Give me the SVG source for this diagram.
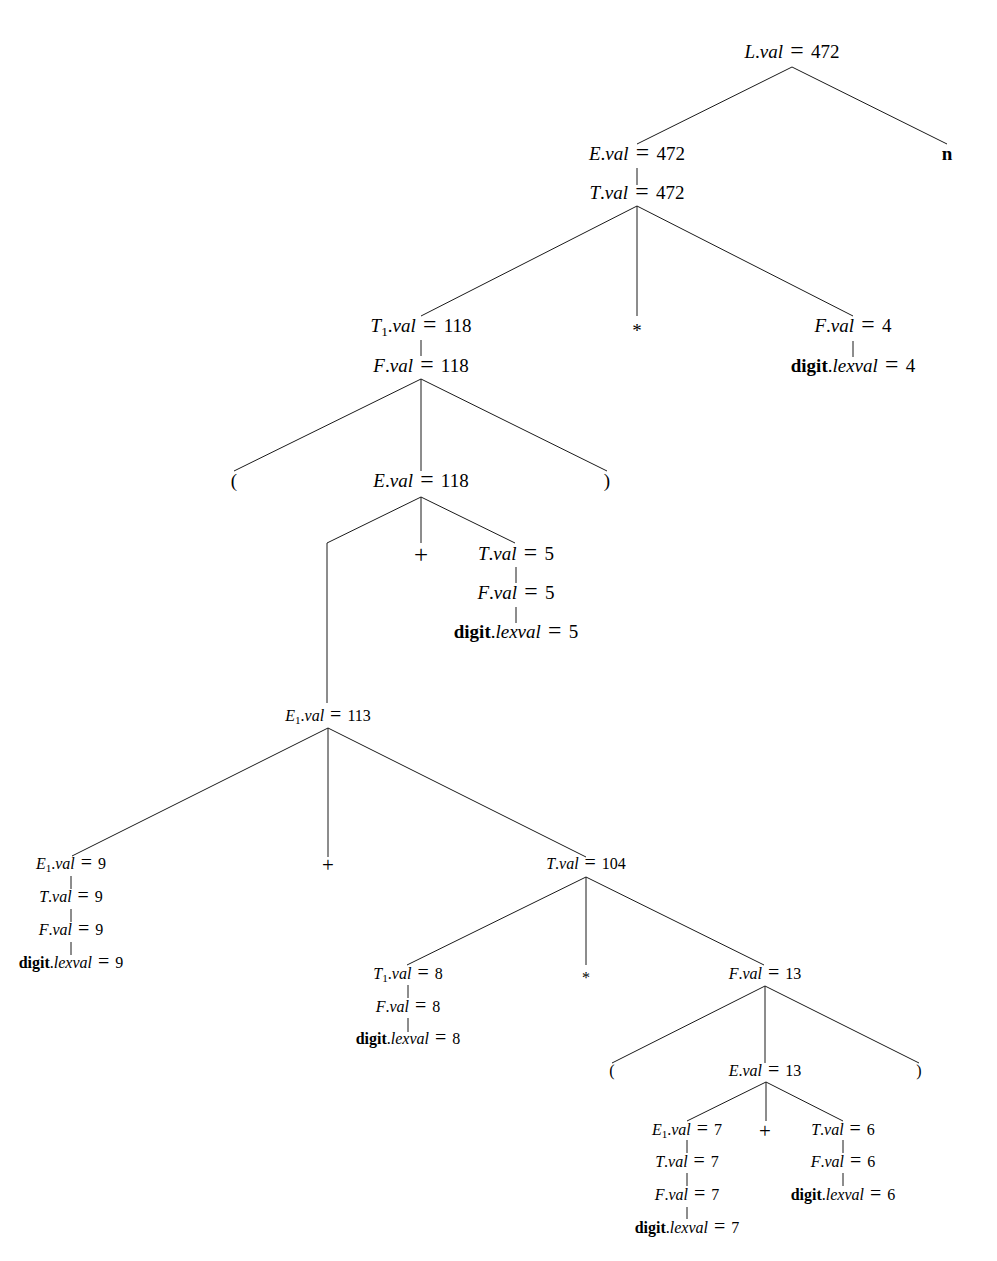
<svg xmlns="http://www.w3.org/2000/svg" width="997" height="1261" viewBox="0 0 997 1261">
<style>
  text { font-family: "Liberation Serif", "Times New Roman", serif; fill: #000; text-anchor: middle; }
  .lg { font-size: 19px; word-spacing: 2.5px; }
  .sm { font-size: 16px; word-spacing: 2px; }
  .i { font-style: italic; }
  .b { font-weight: bold; }
  .sub { font-size: 70%; }
  .eq { font-size: 125%; }
  .op-lg { font-size: 25px; }
  .op-sm { font-size: 21px; }
  #connectors line, #connectors path { stroke: #1a1a1a; stroke-width: 1; fill: none; }
</style>
<rect width="997" height="1261" fill="#fff"/>

<g id="connectors">
  <!-- L -> E, n -->
  <path d="M792 67 L637 144 M792 67 L947 144"/>
  <line x1="637" y1="168" x2="637" y2="185"/>
  <!-- T.val = 472 -->
  <path d="M637 206 L421 316 M637 206 V316 M637 206 L853 316"/>
  <line x1="421" y1="340" x2="421" y2="356"/>
  <line x1="853" y1="341" x2="853" y2="357"/>
  <!-- F.val = 118 -->
  <path d="M421 379 L234 471 M421 379 V471 M421 379 L607 471"/>
  <!-- E.val = 118 -->
  <path d="M421 497 L327 543 V703 M421 497 V543 M421 497 L515 543"/>
  <line x1="516" y1="567" x2="516" y2="583"/>
  <line x1="516" y1="607" x2="516" y2="623"/>
  <!-- E1.val = 113 -->
  <path d="M328 728 L72 856 M328 728 V857 M328 728 L586 857"/>
  <line x1="71" y1="876" x2="71" y2="889"/>
  <line x1="71" y1="909" x2="71" y2="922"/>
  <line x1="71" y1="942" x2="71" y2="955"/>
  <!-- T.val = 104 -->
  <path d="M586 877 L407 965 M586 877 V965 M586 877 L764 965"/>
  <line x1="408" y1="985" x2="408" y2="998"/>
  <line x1="408" y1="1018" x2="408" y2="1032"/>
  <!-- F.val = 13 -->
  <path d="M765 986 L612 1063 M765 986 V1063 M765 986 L919 1063"/>
  <!-- E.val = 13 -->
  <path d="M766 1082 L687 1121 M766 1082 V1121 M766 1082 L843 1121"/>
  <line x1="687" y1="1140" x2="687" y2="1153"/>
  <line x1="687" y1="1173" x2="687" y2="1186"/>
  <line x1="687" y1="1207" x2="687" y2="1219"/>
  <line x1="843" y1="1140" x2="843" y2="1153"/>
  <line x1="843" y1="1173" x2="843" y2="1186"/>
</g>

<!-- upper part of the tree -->
<g id="L-472"><text class="lg" x="792" y="58"><tspan class="i">L</tspan>.<tspan class="i">val</tspan> <tspan class="eq">=</tspan> 472</text></g>
<g id="E-472"><text class="lg" x="637" y="160"><tspan class="i">E</tspan>.<tspan class="i">val</tspan> <tspan class="eq">=</tspan> 472</text></g>
<g id="n"><text class="lg b" x="947" y="160">n</text></g>
<g id="T-472"><text class="lg" x="637" y="199"><tspan class="i">T</tspan>.<tspan class="i">val</tspan> <tspan class="eq">=</tspan> 472</text></g>
<g id="T1-118"><text class="lg" x="421" y="332"><tspan class="i">T</tspan><tspan class="sub" dy="3.5">1</tspan><tspan dy="-3.5">.</tspan><tspan class="i">val</tspan> <tspan class="eq">=</tspan> 118</text></g>
<g id="star-1"><text class="lg" x="637" y="337">*</text></g>
<g id="F-4"><text class="lg" x="853" y="332"><tspan class="i">F</tspan>.<tspan class="i">val</tspan> <tspan class="eq">=</tspan> 4</text></g>
<g id="F-118"><text class="lg" x="421" y="372"><tspan class="i">F</tspan>.<tspan class="i">val</tspan> <tspan class="eq">=</tspan> 118</text></g>
<g id="digit-4"><text class="lg" x="853" y="372"><tspan class="b">digit</tspan>.<tspan class="i">lexval</tspan> <tspan class="eq">=</tspan> 4</text></g>
<g id="lparen-1"><text class="lg" x="234" y="487">(</text></g>
<g id="E-118"><text class="lg" x="421" y="487"><tspan class="i">E</tspan>.<tspan class="i">val</tspan> <tspan class="eq">=</tspan> 118</text></g>
<g id="rparen-1"><text class="lg" x="607" y="487">)</text></g>
<g id="plus-1"><text class="op-lg" x="421" y="563">+</text></g>
<g id="T-5"><text class="lg" x="516" y="560"><tspan class="i">T</tspan>.<tspan class="i">val</tspan> <tspan class="eq">=</tspan> 5</text></g>
<g id="F-5"><text class="lg" x="516" y="599"><tspan class="i">F</tspan>.<tspan class="i">val</tspan> <tspan class="eq">=</tspan> 5</text></g>
<g id="digit-5"><text class="lg" x="516" y="638"><tspan class="b">digit</tspan>.<tspan class="i">lexval</tspan> <tspan class="eq">=</tspan> 5</text></g>

<!-- lower part of the tree -->
<g id="E1-113"><text class="sm" x="328" y="721"><tspan class="i">E</tspan><tspan class="sub" dy="3">1</tspan><tspan dy="-3">.</tspan><tspan class="i">val</tspan> <tspan class="eq">=</tspan> 113</text></g>
<g id="E1-9"><text class="sm" x="71" y="869"><tspan class="i">E</tspan><tspan class="sub" dy="3">1</tspan><tspan dy="-3">.</tspan><tspan class="i">val</tspan> <tspan class="eq">=</tspan> 9</text></g>
<g id="T-9"><text class="sm" x="71" y="902"><tspan class="i">T</tspan>.<tspan class="i">val</tspan> <tspan class="eq">=</tspan> 9</text></g>
<g id="F-9"><text class="sm" x="71" y="935"><tspan class="i">F</tspan>.<tspan class="i">val</tspan> <tspan class="eq">=</tspan> 9</text></g>
<g id="digit-9"><text class="sm" x="71" y="968"><tspan class="b">digit</tspan>.<tspan class="i">lexval</tspan> <tspan class="eq">=</tspan> 9</text></g>
<g id="plus-2"><text class="op-sm" x="328" y="871.5">+</text></g>
<g id="T-104"><text class="sm" x="586" y="869"><tspan class="i">T</tspan>.<tspan class="i">val</tspan> <tspan class="eq">=</tspan> 104</text></g>
<g id="T1-8"><text class="sm" x="408" y="979"><tspan class="i">T</tspan><tspan class="sub" dy="3">1</tspan><tspan dy="-3">.</tspan><tspan class="i">val</tspan> <tspan class="eq">=</tspan> 8</text></g>
<g id="star-2"><text class="sm" x="586" y="983">*</text></g>
<g id="F-13"><text class="sm" x="765" y="979"><tspan class="i">F</tspan>.<tspan class="i">val</tspan> <tspan class="eq">=</tspan> 13</text></g>
<g id="F-8"><text class="sm" x="408" y="1012"><tspan class="i">F</tspan>.<tspan class="i">val</tspan> <tspan class="eq">=</tspan> 8</text></g>
<g id="digit-8"><text class="sm" x="408" y="1044"><tspan class="b">digit</tspan>.<tspan class="i">lexval</tspan> <tspan class="eq">=</tspan> 8</text></g>
<g id="lparen-2"><text class="sm" x="612" y="1076">(</text></g>
<g id="E-13"><text class="sm" x="765" y="1076"><tspan class="i">E</tspan>.<tspan class="i">val</tspan> <tspan class="eq">=</tspan> 13</text></g>
<g id="rparen-2"><text class="sm" x="919" y="1076">)</text></g>
<g id="E1-7"><text class="sm" x="687" y="1135"><tspan class="i">E</tspan><tspan class="sub" dy="3">1</tspan><tspan dy="-3">.</tspan><tspan class="i">val</tspan> <tspan class="eq">=</tspan> 7</text></g>
<g id="plus-3"><text class="op-sm" x="765" y="1137.5">+</text></g>
<g id="T-6"><text class="sm" x="843" y="1135"><tspan class="i">T</tspan>.<tspan class="i">val</tspan> <tspan class="eq">=</tspan> 6</text></g>
<g id="T-7"><text class="sm" x="687" y="1167"><tspan class="i">T</tspan>.<tspan class="i">val</tspan> <tspan class="eq">=</tspan> 7</text></g>
<g id="F-6"><text class="sm" x="843" y="1167"><tspan class="i">F</tspan>.<tspan class="i">val</tspan> <tspan class="eq">=</tspan> 6</text></g>
<g id="F-7"><text class="sm" x="687" y="1200"><tspan class="i">F</tspan>.<tspan class="i">val</tspan> <tspan class="eq">=</tspan> 7</text></g>
<g id="digit-6"><text class="sm" x="843" y="1200"><tspan class="b">digit</tspan>.<tspan class="i">lexval</tspan> <tspan class="eq">=</tspan> 6</text></g>
<g id="digit-7"><text class="sm" x="687" y="1233"><tspan class="b">digit</tspan>.<tspan class="i">lexval</tspan> <tspan class="eq">=</tspan> 7</text></g>
</svg>
